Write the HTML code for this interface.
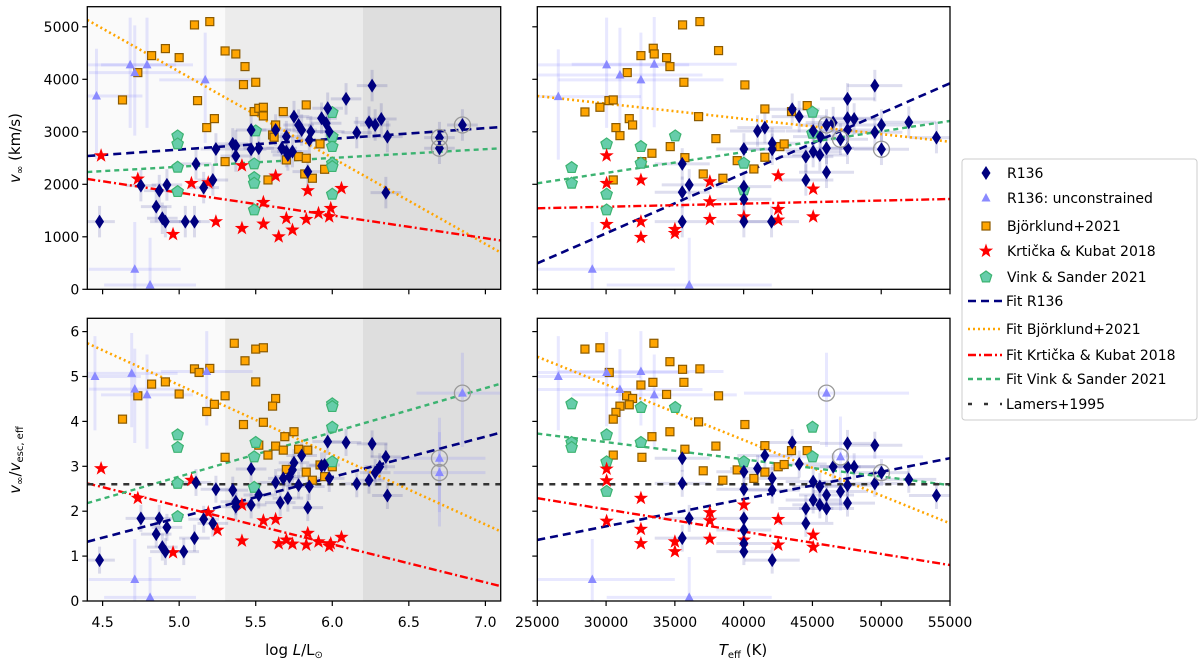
<!DOCTYPE html>
<html><head><meta charset="utf-8">
<style>
body{margin:0;background:#fff;}
svg{display:block;font-family:"DejaVu Sans","Liberation Sans",sans-serif;}
</style></head>
<body>
<svg id="fig" width="1200" height="667" viewBox="0 0 1200 667" xmlns="http://www.w3.org/2000/svg"></svg>
<script>
// ---------- axis ticks ----------
const logLTicks=[4.5,5.0,5.5,6.0,6.5,7.0];
const logLTickLabels=["4.5","5.0","5.5","6.0","6.5","7.0"];
const teffTicks=[25000,30000,35000,40000,45000,50000,55000];
const teffTickLabels=["25000","30000","35000","40000","45000","50000","55000"];
const vinfTicks=[0,1000,2000,3000,4000,5000];
const ratioTicks=[0,1,2,3,4,5,6];
const shadeEdges=[4.40,5.3,6.2,7.10];

// ---------- TOP-LEFT: logL vs vinf ----------
const tl_r136_x=[4.48,4.75,4.87,4.92,4.85,4.89,4.91,5.04,5.10,5.11,5.16,5.22,5.24,5.35,5.37,5.37,5.47,5.47,5.52,5.63,5.67,5.70,5.70,5.71,5.74,5.75,5.78,5.80,5.84,5.85,5.86,5.93,5.96,5.97,5.98,6.09,6.16,6.24,6.26,6.28,6.32,6.35,6.36,6.70,6.70,6.85];
const tl_r136_y=[1289,1975,1880,1988,1575,1353,1289,1289,1289,2388,1937,2083,2673,2769,2731,2540,3035,2667,2686,3035,2686,2908,2623,2559,2623,3289,3130,3035,2242,2845,3003,3258,3162,3448,3003,3626,2985,3181,3880,3130,3245,1842,2908,2890,2686,3130];
const tl_unc_x=[4.46,4.68,4.79,4.71,5.17,4.71,4.81];
const tl_unc_y=[3683,4274,4274,4128,3988,381,83];
const tl_bj_x=[4.63,4.73,4.82,4.91,5.00,5.10,5.20,5.12,5.18,5.23,5.30,5.37,5.43,5.42,5.50,5.49,5.52,5.55,5.55,5.63,5.61,5.62,5.68,5.83,5.30,5.58,5.70,5.78,5.83,5.82,5.87,5.95,5.92];
const tl_bj_y=[3607,4128,4451,4585,4413,5036,5099,3594,3080,3251,4540,4483,4242,3899,3943,3385,3448,3467,3302,3130,2940,2896,3385,3512,2432,2083,2464,2527,2496,2197,2115,2286,2769];
const tl_kk_x=[4.49,4.73,4.96,5.08,5.19,5.24,5.41,5.41,5.55,5.55,5.63,5.65,5.70,5.74,5.84,5.83,5.91,5.98,5.99,6.06];
const tl_kk_y=[2546,2102,1048,2019,2032,1289,1162,2356,1245,1657,2159,1003,1353,1130,1880,1334,1448,1384,1543,1924];
const tl_vs_x=[4.99,4.99,4.99,4.99,5.50,5.49,5.49,5.49,5.49,6.00,6.00,6.00,6.00,6.00,6.00];
const tl_vs_y=[2921,2769,2324,1861,3016,2388,2127,2019,1511,3366,2718,2908,2400,2337,1810];
const tl_circ_x=[6.70,6.70,6.85];
const tl_circ_y=[2890,2686,3130];
const tl_fitX=[4.40,7.10];
const tl_fitR136=[2539,3090];
const tl_fitBj=[5130,700];
const tl_fitKK=[2101,930];
const tl_fitVS=[2234,2686];

// ---------- TOP-RIGHT: Teff vs vinf ----------
const tr_r136_x=[35536,35536,36044,35536,40016,40016,40016,40016,41010,41542,42075,42075,42027,43529,44038,44522,44522,45054,45054,45538,45587,46023,46023,46023,46508,47040,47549,47549,47549,47549,48033,49535,49535,50019,50019,52005,54015];
const tr_r136_y=[2388,1848,1988,1289,2673,1956,1715,1289,3016,3080,2781,2667,1289,3429,3289,2527,2083,3016,2623,2559,2908,3130,2686,2229,3175,2858,3626,3258,3035,2686,3245,3880,2991,3130,2667,3181,2890];
const tr_unc_x=[26526,30038,31007,32532,33501,28996,36044];
const tr_unc_y=[3670,4274,4083,3988,4286,381,83];
const tr_bj_x=[28463,29553,30207,30522,31539,32532,33429,33501,34397,34640,35560,36819,38176,35657,40089,30716,31007,31685,31927,33332,32605,34664,36723,37982,35729,37062,38491,39532,40743,41542,41542,42632,42947,44619,43480,30522];
const tr_bj_y=[3378,3467,3594,3607,4128,4451,4591,4483,4413,4242,5036,5099,4547,3943,3893,3080,2927,3251,3130,2591,2432,2718,3289,2870,2508,2197,2115,2451,2292,2515,3435,2718,2769,3499,3385,2083];
const tr_kk_x=[30038,30038,30038,32532,32532,32532,35003,35003,37546,37546,37546,40016,42511,42511,42511,45054,45054];
const tr_kk_y=[2546,2019,1238,2083,1289,991,1143,1067,2051,1670,1334,1384,2165,1524,1321,1911,1384];
const tr_vs_x=[27495,27495,30038,30038,30038,32532,32532,35027,40016,40016,45005,45005];
const tr_vs_y=[2318,2019,2769,1810,1511,2718,2400,2921,2400,1892,3372,2972];
const tr_circ_x=[46023,47040,50019];
const tr_circ_y=[3130,2858,2667];
const tr_fitX=[25000,55000];
const tr_fitR136=[495,3924];
const tr_fitBj=[3682,2811];
const tr_fitKK=[1543,1720];
const tr_fitVS=[2019,3206];

// ---------- BOTTOM-LEFT: logL vs ratio ----------
const bl_r136_x=[4.48,4.75,4.87,4.92,4.85,4.89,4.91,5.03,5.10,5.11,5.16,5.22,5.24,5.35,5.37,5.37,5.47,5.47,5.52,5.63,5.66,5.68,5.71,5.72,5.74,5.75,5.80,5.78,5.84,5.85,5.93,5.95,5.97,5.98,6.09,6.16,6.24,6.26,6.28,6.31,6.35,6.36];
const bl_r136_y=[0.91,1.84,1.84,1.64,1.49,1.20,1.10,1.10,1.40,2.64,1.82,1.73,2.49,2.47,2.10,2.21,2.94,2.14,2.36,2.64,2.19,2.73,2.29,2.77,2.92,3.08,3.24,2.58,2.08,2.55,3.01,3.03,3.55,2.73,3.53,2.61,2.69,3.50,2.86,2.99,3.21,2.35];
const bl_unc_x=[4.45,4.69,4.71,4.79,5.18,4.71,4.81,6.70,6.70,6.85];
const bl_unc_y=[5.00,5.07,4.72,4.59,5.11,0.48,0.08,3.18,2.86,4.63];
const bl_bj_x=[4.63,4.73,4.82,4.91,5.00,5.10,5.13,5.20,5.18,5.23,5.30,5.36,5.43,5.50,5.55,5.50,5.63,5.61,5.42,5.55,5.69,5.75,5.30,5.52,5.58,5.63,5.68,5.78,5.84,5.70,5.83,5.87,5.92,6.00,5.95];
const bl_bj_y=[4.05,4.57,4.83,4.88,4.61,5.17,5.09,5.18,4.22,4.38,4.57,5.74,5.35,5.61,5.64,4.88,4.51,4.34,3.93,3.98,3.66,3.77,3.20,3.47,3.25,3.45,3.36,3.38,3.36,2.93,2.87,2.69,3.03,2.99,2.77];
const bl_kk_x=[4.49,4.73,4.96,5.08,5.19,5.25,5.41,5.41,5.55,5.63,5.65,5.70,5.74,5.84,5.83,5.91,5.98,5.99,6.06];
const bl_kk_y=[2.95,2.29,1.08,2.69,1.97,1.58,1.34,2.14,1.79,1.82,1.28,1.36,1.27,1.51,1.25,1.32,1.22,1.28,1.42];
const bl_vs_x=[4.99,4.99,4.99,4.99,5.50,5.49,5.49,6.00,6.00,6.00,6.00];
const bl_vs_y=[3.70,3.42,2.62,1.88,3.53,3.21,2.53,4.39,4.33,3.87,3.10];
const bl_circ_x=[6.70,6.70,6.85];
const bl_circ_y=[3.18,2.86,4.63];
const bl_fitX=[4.40,7.10];
const bl_fitR136=[1.32,3.75];
const bl_fitBj=[5.74,1.55];
const bl_fitKK=[2.62,0.33];
const bl_fitVS=[2.18,4.84];
const bl_lamers=[2.6,2.6];

// ---------- BOTTOM-RIGHT: Teff vs ratio ----------
const br_r136_x=[35536,35536,36044,35536,40016,40016,40016,40016,40016,40016,41010,41542,42075,42075,42075,43529,44038,44522,44522,45054,45054,45538,45538,46023,46023,46508,47040,47549,47549,47549,47549,48033,49535,49535,50019,52005,54015];
const br_r136_y=[3.18,2.62,1.84,1.40,2.88,2.49,1.84,1.58,1.28,1.10,2.95,3.24,2.73,2.47,0.91,3.53,3.05,2.06,1.73,2.66,2.25,2.55,2.14,2.36,2.06,2.99,2.44,3.51,2.99,2.58,2.18,2.99,3.47,2.62,2.86,2.71,2.35];
const br_unc_x=[26526,30038,31007,32532,33501,28996,36044,46023,47040];
const br_unc_y=[5.00,5.09,4.71,5.11,4.59,0.48,0.08,4.63,3.21];
const br_bj_x=[28463,29553,30231,33477,34640,35560,36819,35657,33404,32532,34397,38176,31491,31927,31685,31007,30716,30522,36723,40089,34640,33332,37982,41542,43480,44619,35729,30522,32605,37062,38491,39532,40743,41542,42511,42947];
const br_bj_y=[5.61,5.64,5.09,5.74,5.33,5.16,5.17,4.87,4.87,4.81,4.60,4.57,4.57,4.51,4.37,4.34,4.20,4.05,3.99,3.93,3.77,3.66,3.45,3.46,3.35,3.35,3.38,3.25,3.20,2.90,2.69,2.92,2.73,2.87,2.99,3.04];
const br_kk_x=[30038,30038,30038,32532,32532,32532,35003,35003,37546,37546,37546,40016,40016,42511,42511,45054,45054];
const br_kk_y=[2.94,2.68,1.78,2.29,1.60,1.28,1.32,1.10,1.97,1.79,1.38,2.14,1.36,1.82,1.25,1.47,1.20];
const br_vs_x=[27495,27495,27495,30038,30038,30038,32532,32532,35027,40016,45005,45005];
const br_vs_y=[4.39,3.53,3.42,3.70,3.10,2.44,4.31,3.53,4.31,3.10,3.87,3.21];
const br_circ_x=[46023,47040,50019];
const br_circ_y=[4.63,3.21,2.86];
const br_fitX=[25000,55000];
const br_fitR136=[1.36,3.18];
const br_fitBj=[5.44,1.73];
const br_fitKK=[2.29,0.80];
const br_fitVS=[3.73,2.58];
const br_lamers=[2.6,2.6];

const NS="http://www.w3.org/2000/svg";
const svg=document.getElementById('fig');
function mk(tag,attrs,parent){const e=document.createElementNS(NS,tag);for(const k in attrs)e.setAttribute(k,attrs[k]);(parent||svg).appendChild(e);return e;}
function lin(d0,d1,r0,r1){return v=>r0+(v-d0)*(r1-r0)/(d1-d0);}

const C={navy:'#00007f',unc:'#8a8aff',orange:'#ffa500',orangeEdge:'#8b5a00',red:'#ff0000',green:'#3cb371',greenFill:'#66cdaa',grey:'#444'};

function diamond(g,x,y){const e=mk('path',{d:`M${x},${y-7}L${x+4.5},${y}L${x},${y+7}L${x-4.5},${y}Z`,fill:C.navy},g);}
function tri(g,x,y){const e=mk('path',{d:`M${x},${y-5}L${x+4.5},${y+3.5}L${x-4.5},${y+3.5}Z`,fill:C.unc},g);}
function square(g,x,y){const e=mk('rect',{x:x-4,y:y-4,width:8,height:8,fill:C.orange,stroke:C.orangeEdge,'stroke-width':1.2},g);}
function star(g,x,y){let d='';for(let i=0;i<10;i++){const r=i%2?3:7.5;const a=-Math.PI/2+i*Math.PI/5;d+=(i?'L':'M')+(x+r*Math.cos(a)).toFixed(2)+','+(y+r*Math.sin(a)).toFixed(2);}const e=mk('path',{d:d+'Z',fill:C.red},g);}
function penta(g,x,y){let d='';for(let i=0;i<5;i++){const a=-Math.PI/2+i*2*Math.PI/5;d+=(i?'L':'M')+(x+6*Math.cos(a)).toFixed(2)+','+(y+6*Math.sin(a)).toFixed(2);}const e=mk('path',{d:d+'Z',fill:C.greenFill,stroke:C.green,'stroke-width':1.2},g);}

function panel(p){
  const sx=lin(p.xd[0],p.xd[1],p.x0,p.x1), sy=lin(p.yd[0],p.yd[1],p.y1,p.y0);
  const g=mk('g',{});
  if(p.shade){const cols=['#fafafa','#ececec','#dedede'];for(let i=0;i<3;i++){const r=mk('rect',{x:sx(shadeEdges[i]),y:p.y0,width:sx(shadeEdges[i+1])-sx(shadeEdges[i]),height:p.y1-p.y0,fill:cols[i]},g);}}
  const clipId=p.name+'-clip';const cp=mk('clipPath',{id:clipId},g);mk('rect',{x:p.x0,y:p.y0,width:p.x1-p.x0,height:p.y1-p.y0},cp);
  const plot=mk('g',{'clip-path':`url(#${clipId})`},g);
  const eb=mk('g',{},plot);
  p.r136x.forEach((v,i)=>{const x=sx(v),y=sy(p.r136y[i]);mk('line',{x1:sx(v-p.ex),x2:sx(v+p.ex),y1:y,y2:y,stroke:'rgba(0,0,128,0.13)','stroke-width':3},eb);mk('line',{x1:x,x2:x,y1:sy(p.r136y[i]-p.ey),y2:sy(p.r136y[i]+p.ey),stroke:'rgba(0,0,128,0.13)','stroke-width':3},eb);});
  p.uncx.forEach((v,i)=>{const x=sx(v),y=sy(p.uncy[i]);mk('line',{x1:sx(v-p.ex*3),x2:sx(v+p.ex*3),y1:y,y2:y,stroke:'rgba(100,100,255,0.15)','stroke-width':3},eb);mk('line',{x1:x,x2:x,y1:sy(p.uncy[i]-p.ey*4),y2:sy(p.uncy[i]+p.ey*3),stroke:'rgba(100,100,255,0.15)','stroke-width':3},eb);});
  const fits=[[p.fR,C.navy,'8,5',2.6,'fit-r136'],[p.fB,C.orange,'2,3',2.6,'fit-bjorklund'],[p.fK,C.red,'8,3,2,3',2.4,'fit-krticka'],[p.fV,C.green,'5,4',2.4,'fit-vink']];
  if(p.lam) fits.push([p.lam,'#333','6,6',2.4,'lamers-line']);
  fits.forEach(f=>{const l=mk('line',{x1:sx(p.fx[0]),y1:sy(f[0][0]),x2:sx(p.fx[1]),y2:sy(f[0][1]),stroke:f[1],'stroke-width':f[3],'stroke-dasharray':f[2]},plot);});
  p.bjx.forEach((v,i)=>square(plot,sx(v),sy(p.bjy[i])));
  p.vsx.forEach((v,i)=>penta(plot,sx(v),sy(p.vsy[i])));
  p.kkx.forEach((v,i)=>star(plot,sx(v),sy(p.kky[i])));
  p.uncx.forEach((v,i)=>tri(plot,sx(v),sy(p.uncy[i])));
  p.r136x.forEach((v,i)=>diamond(plot,sx(v),sy(p.r136y[i])));
  p.cx.forEach((v,i)=>{const c=mk('circle',{cx:sx(v),cy:sy(p.cy[i]),r:8,fill:'none',stroke:'#999','stroke-width':1.3},plot);});
  const fr=mk('rect',{x:p.x0,y:p.y0,width:p.x1-p.x0,height:p.y1-p.y0,fill:'none',stroke:'#000','stroke-width':1.3},g);
  p.xt.forEach((v,i)=>{const x=sx(v);mk('line',{x1:x,x2:x,y1:p.y1,y2:p.y1+5,stroke:'#000','stroke-width':1.2},g);if(p.xl){const t=mk('text',{x:x,y:p.y1+26,'text-anchor':'middle','font-size':14},g);t.textContent=p.xl[i];}});
  p.yt.forEach(v=>{const y=sy(v);mk('line',{x1:p.x0-5,x2:p.x0,y1:y,y2:y,stroke:'#000','stroke-width':1.2},g);if(p.yl){const t=mk('text',{x:p.x0-8,y:y+5,'text-anchor':'end','font-size':14},g);t.textContent=String(v);}});
}

const LX=[87.3,500.7], RX=[537.3,950], TY=[6.7,289.3], BY=[318.3,601];
panel({name:'panel-top-left',shade:true,xd:[4.40,7.10],x0:LX[0],x1:LX[1],yd:[0,(289.3-6.7)/0.0525],y0:TY[0],y1:TY[1],xt:logLTicks,xl:null,yt:vinfTicks,yl:true,ex:0.1,ey:300,
 r136x:tl_r136_x,r136y:tl_r136_y,uncx:tl_unc_x,uncy:tl_unc_y,bjx:tl_bj_x,bjy:tl_bj_y,kkx:tl_kk_x,kky:tl_kk_y,vsx:tl_vs_x,vsy:tl_vs_y,cx:tl_circ_x,cy:tl_circ_y,fx:tl_fitX,fR:tl_fitR136,fB:tl_fitBj,fK:tl_fitKK,fV:tl_fitVS});
panel({name:'panel-top-right',shade:false,xd:[25000,55000],x0:RX[0],x1:RX[1],yd:[0,(289.3-6.7)/0.0525],y0:TY[0],y1:TY[1],xt:teffTicks,xl:null,yt:vinfTicks,yl:false,ex:2000,ey:300,
 r136x:tr_r136_x,r136y:tr_r136_y,uncx:tr_unc_x,uncy:tr_unc_y,bjx:tr_bj_x,bjy:tr_bj_y,kkx:tr_kk_x,kky:tr_kk_y,vsx:tr_vs_x,vsy:tr_vs_y,cx:tr_circ_x,cy:tr_circ_y,fx:tr_fitX,fR:tr_fitR136,fB:tr_fitBj,fK:tr_fitKK,fV:tr_fitVS});
panel({name:'panel-bottom-left',shade:true,xd:[4.40,7.10],x0:LX[0],x1:LX[1],yd:[0,(601-318.3)/44.9],y0:BY[0],y1:BY[1],xt:logLTicks,xl:logLTickLabels,yt:ratioTicks,yl:true,ex:0.1,ey:0.3,
 r136x:bl_r136_x,r136y:bl_r136_y,uncx:bl_unc_x,uncy:bl_unc_y,bjx:bl_bj_x,bjy:bl_bj_y,kkx:bl_kk_x,kky:bl_kk_y,vsx:bl_vs_x,vsy:bl_vs_y,cx:bl_circ_x,cy:bl_circ_y,fx:bl_fitX,fR:bl_fitR136,fB:bl_fitBj,fK:bl_fitKK,fV:bl_fitVS,lam:bl_lamers});
panel({name:'panel-bottom-right',shade:false,xd:[25000,55000],x0:RX[0],x1:RX[1],yd:[0,(601-318.3)/44.9],y0:BY[0],y1:BY[1],xt:teffTicks,xl:teffTickLabels,yt:ratioTicks,yl:false,ex:2000,ey:0.3,
 r136x:br_r136_x,r136y:br_r136_y,uncx:br_unc_x,uncy:br_unc_y,bjx:br_bj_x,bjy:br_bj_y,kkx:br_kk_x,kky:br_kk_y,vsx:br_vs_x,vsy:br_vs_y,cx:br_circ_x,cy:br_circ_y,fx:br_fitX,fR:br_fitR136,fB:br_fitBj,fK:br_fitKK,fV:br_fitVS,lam:br_lamers});

// legend
const lg=mk('g',{});


mk('rect',{x:962,y:159,width:235,height:261,rx:3,fill:'#fff',stroke:'#ccc','stroke-width':1},lg);
const legLabels=['R136','R136: unconstrained','Björklund+2021','Krtička & Kubat 2018','Vink & Sander 2021','Fit R136','Fit Björklund+2021','Fit Krtička & Kubat 2018','Fit Vink & Sander 2021','Lamers+1995'];
const legY=[173,198,226,251,277,301,329,355,379,404];
legLabels.forEach((s,i)=>{
  const y=legY[i];
  if(i===0)diamond(lg,986,y);else if(i===1)tri(lg,986,y);else if(i===2)square(lg,986,y);else if(i===3)star(lg,986,y);else if(i===4)penta(lg,986,y);
  else{const st=[[C.navy,'8,5'],[C.orange,'2,3'],[C.red,'8,3,2,3'],[C.green,'5,4'],['#333','4,12']][i-5];mk('line',{x1:968,x2:1002,y1:y,y2:y,stroke:st[0],'stroke-width':2.6,'stroke-dasharray':st[1]},lg);}
  const t=mk('text',{x:i<5?1007:1006,y:y+5,'font-size':14},lg);t.textContent=s;
  
  
});

function title(x,y,html,rot,name){const t=mk('text',{x:x,y:y,'text-anchor':'middle','font-size':15,transform:rot?`rotate(-90 ${x} ${y})`:''});t.innerHTML=html;}
title(20,148,'<tspan font-style="italic">v</tspan><tspan font-size="10" dy="3">∞</tspan><tspan dy="-3"> (km/s)</tspan>',true,'y-axis-title-top');
title(20,460,'<tspan font-style="italic">v</tspan><tspan font-size="10" dy="3">∞</tspan><tspan dy="-3">/</tspan><tspan font-style="italic">v</tspan><tspan font-size="10" dy="3">esc, eff</tspan>',true,'y-axis-title-bottom');
title(294,655,'log <tspan font-style="italic">L</tspan>/L<tspan font-size="10" dy="3">⊙</tspan>',false,'x-axis-title-left');
title(743,655,'<tspan font-style="italic">T</tspan><tspan font-size="10" dy="3">eff</tspan><tspan dy="-3"> (K)</tspan>',false,'x-axis-title-right');
</script>
</body></html>
